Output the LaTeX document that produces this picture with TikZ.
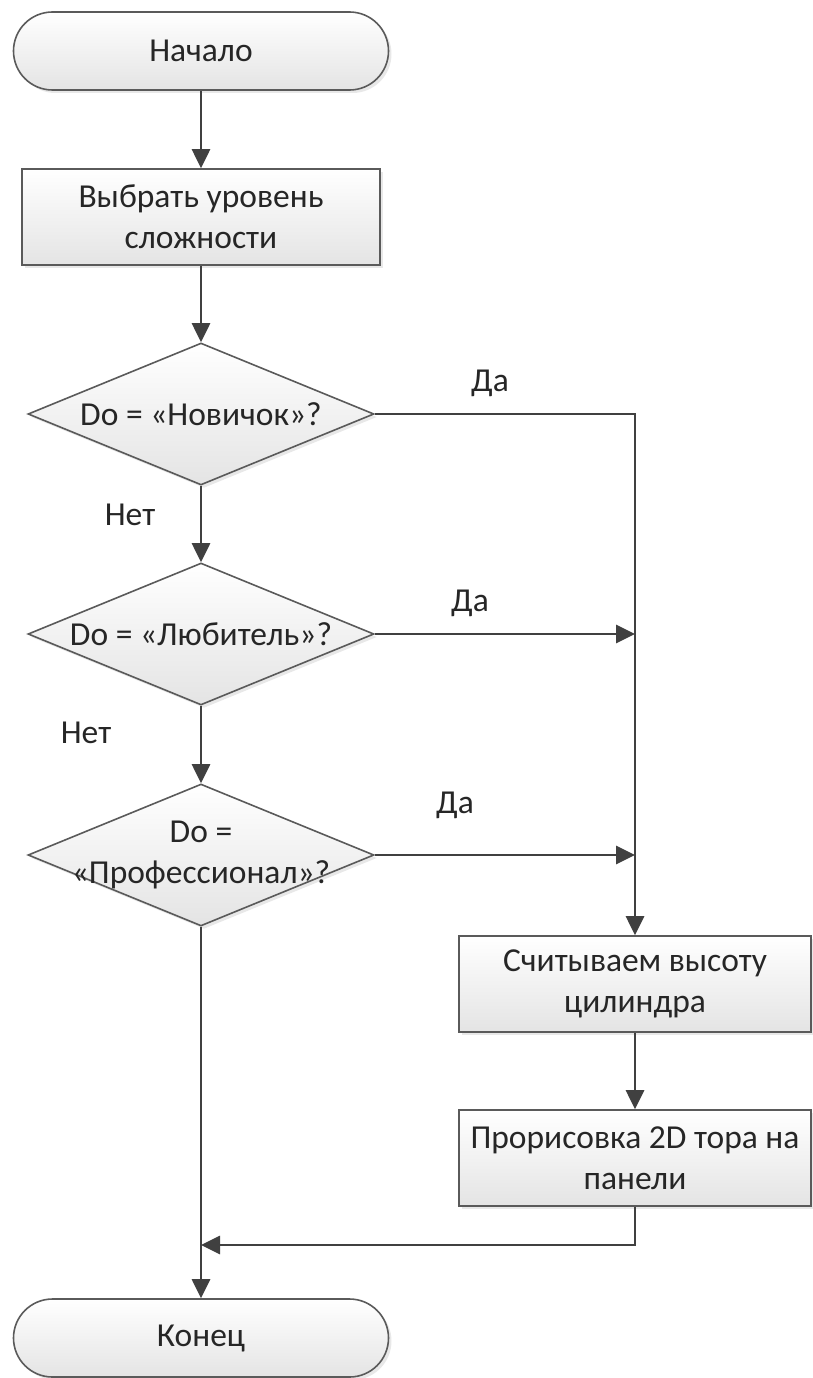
\documentclass[tikz,border=0pt]{standalone}
\usepackage{fontspec}
\setmainfont{Carlito}
\usetikzlibrary{arrows.meta,shapes.geometric,shadows,calc}
\definecolor{linec}{HTML}{404040}
\definecolor{edgec}{HTML}{5A5A5A}
\definecolor{txtc}{HTML}{262626}
\definecolor{fillb}{HTML}{E4E4E4}
\begin{document}
\begin{tikzpicture}[x=1pt,y=-1pt,
  every node/.style={font=\fontsize{33.5}{41}\selectfont, text=txtc},
  shapebase/.style={draw=edgec, line width=1.6pt, top color=white, bottom color=fillb,
    drop shadow={shadow xshift=3pt, shadow yshift=-3pt, opacity=0.18, fill=gray}},
  term/.style={shapebase, rectangle, rounded corners=39pt, minimum width=375pt, minimum height=78pt, inner sep=0pt},
  proc/.style={shapebase, rectangle, minimum width=358pt, minimum height=96pt, inner sep=0pt, align=center},
  proc2/.style={shapebase, rectangle, minimum width=352pt, minimum height=96pt, inner sep=0pt, align=center},
  decis/.style={shapebase, diamond, minimum width=346pt, minimum height=142pt, inner sep=0pt},
  conn/.style={draw=linec, line width=2.8pt, -{Triangle[length=19pt,width=18pt]}},
  lbl/.style={inner sep=0pt}
]
\useasboundingbox (0,0) rectangle (813,1378);

\node[term] (start) at (201,51) {Начало};
\node[proc] (choose) at (201,217) {Выбрать уровень\\сложности};
\node[decis] (d1) at (201,414) {\makebox[0pt]{Do = «Новичок»?}};
\node[decis] (d2) at (201,634) {\makebox[0pt]{Do = «Любитель»?}};
\node[decis] (d3) at (201,855) {\makebox[0pt]{\begin{tabular}{@{}c@{}}Do =\\«Профессионал»?\end{tabular}}};
\node[proc2] (read) at (635,984) {Считываем высоту\\цилиндра};
\node[proc2] (paint) at (635,1158) {Прорисовка 2D тора на\\панели};
\node[term] (end) at (201,1338) {Конец};

\coordinate (merge) at (201,1245);

\node[lbl] (da1) at (490,383) {Да};
\node[lbl] (da2) at (470,603) {Да};
\node[lbl] (da3) at (455,805) {Да};
\node[lbl] (net1) at (130,515) {Нет};
\node[lbl] (net2) at (86,733) {Нет};

\draw[conn] (start) -- (choose);
\draw[conn] (choose) -- (d1);
\draw[conn] (d1) -- (d2);
\draw[conn] (d2) -- (d3);
\draw[conn] (d3) -- (end);
\draw[conn] (d1.east) -| (read.north);
\draw[conn] (d2.east) -- (d2.east -| read.north);
\draw[conn] (d3.east) -- (d3.east -| read.north);
\draw[conn] (read) -- (paint);
\draw[conn] (paint.south) |- (merge);
\end{tikzpicture}
\end{document}
